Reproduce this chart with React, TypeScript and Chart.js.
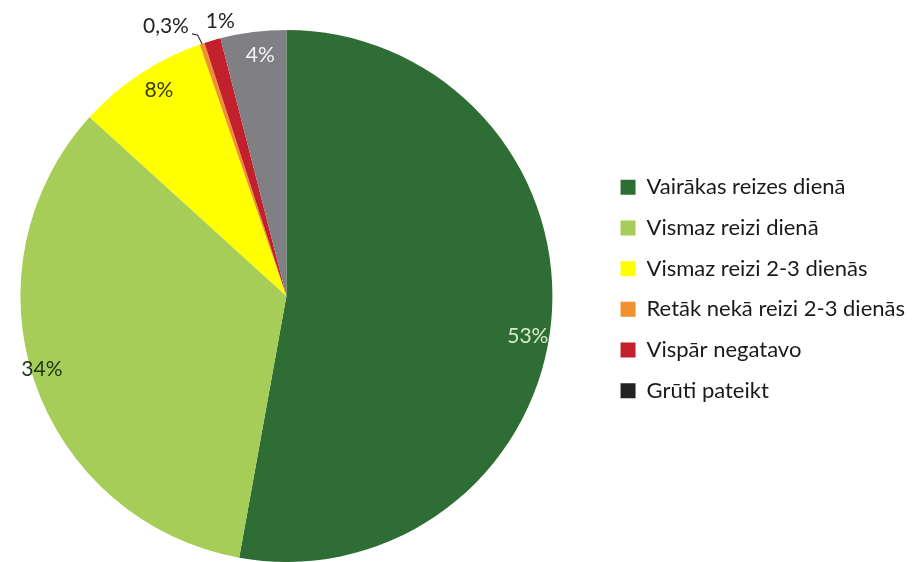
import React, { useEffect, useRef } from "react";
import { Chart, registerables } from "chart.js";

Chart.register(...registerables);

const categories = [
  "Vairākas reizes dienā",
  "Vismaz reizi dienā",
  "Vismaz reizi 2-3 dienās",
  "Retāk nekā reizi 2-3 dienās",
  "Vispār negatavo",
  "Grūti pateikt",
];
const values = [53, 34, 8, 0.3, 1, 4];
const valueLabels = ["53%", "34%", "8%", "0,3%", "1%", "4%"];
const sliceColors = ["#2e6e34", "#a5cd58", "#ffff00", "#f0902e", "#c1202c", "#807f83"];
const legendColors = ["#2e6e34", "#a5cd58", "#ffff00", "#f0902e", "#c1202c", "#222222"];

// label placement style (radius factor, angle shift in degrees, colour)
const labelStyles = [
  { rf: 0.92, da: 4.3, color: "#d6ead0" },
  { rf: 0.96, da: 2, color: "#1f3318" },
  { rf: 0.91, da: 1.6, color: "#3a3a10" },
  { rf: 1.11, da: -5.6, color: "#222222", leader: true },
  { rf: 1.061, da: 2.6, color: "#222222" },
  { rf: 0.91, da: 1, color: "#f4f4f4" },
];

const SHIFT = 29;

const pieLabels = {
  id: "pieLabels",
  afterDatasetsDraw(chart: any) {
    const meta = chart.getDatasetMeta(0);
    const ctx = chart.ctx;
    meta.data.forEach((arc: any, i: number) => {
      const p = arc.getProps(["x", "y", "startAngle", "endAngle", "outerRadius"], true);
      const st = labelStyles[i];
      const midRaw = (p.startAngle + p.endAngle) / 2;
      const mid = midRaw + (st.da * Math.PI) / 180;
      const r = p.outerRadius * st.rf;
      const lx = p.x + Math.cos(mid) * r;
      const ly = p.y + Math.sin(mid) * r;
      ctx.save();
      ctx.font = "21px Lato";
      ctx.fillStyle = st.color;
      ctx.textAlign = "center";
      ctx.textBaseline = "middle";
      ctx.fillText(valueLabels[i], lx, ly);
      if (st.leader) {
        const w = ctx.measureText(valueLabels[i]).width;
        const sx = lx + w / 2 + 3;
        const sy = ly + 7.5;
        const ex = p.x + Math.cos(midRaw) * p.outerRadius;
        const ey = p.y + Math.sin(midRaw) * p.outerRadius;
        const kx = sx + (ex - sx) * 0.55;
        ctx.strokeStyle = "#333333";
        ctx.lineWidth = 1.2;
        ctx.beginPath();
        ctx.moveTo(sx, sy);
        ctx.lineTo(kx, sy + 1);
        ctx.lineTo(ex, ey);
        ctx.stroke();
      }
      ctx.restore();
    });
  },
};

const legendShift = {
  id: "legendShift",
  afterLayout(chart: any) {
    if (chart.legend) {
      chart.legend.top -= 8;
      chart.legend.bottom -= 8;
    }
  },
};

export default function App() {
  const ref = useRef<HTMLCanvasElement | null>(null);
  useEffect(() => {
    document.body.style.margin = "0";
    const canvas = ref.current;
    if (!canvas) return;
    const chart = new Chart(canvas, {
      type: "pie",
      data: {
        labels: categories,
        datasets: [
          {
            data: values,
            backgroundColor: sliceColors,
            borderWidth: 0,
            hoverOffset: 0,
            offset: 0,
          },
        ],
      },
      options: {
        responsive: false,
        animation: false,
        devicePixelRatio: 1,
        layout: { padding: { left: 0, top: 30, bottom: -2, right: -2 } },
        plugins: {
          tooltip: { enabled: false },
          legend: {
            position: "right",
            align: "center",
            labels: {
              boxWidth: 15,
              boxHeight: 15,
              padding: 18.7,
              color: "#1a1a1a",
              font: { family: "Lato", size: 22 },
              generateLabels: () =>
                categories.map((c, i) => ({
                  text: c,
                  fillStyle: legendColors[i],
                  strokeStyle: legendColors[i],
                  lineWidth: 0,
                  hidden: false,
                  index: i,
                  fontColor: "#1a1a1a",
                })),
            },
          },
        },
      } as any,
      plugins: [pieLabels, legendShift],
    });
    return () => chart.destroy();
  }, []);
  return (
    <div
      style={{
        width: 913,
        height: 562,
        background: "#ffffff",
        overflow: "hidden",
        position: "relative",
      }}
    >
      <canvas
        ref={ref}
        width={913 + SHIFT}
        height={562}
        style={{ display: "block", position: "absolute", left: -SHIFT, top: 0 }}
      />
    </div>
  );
}
